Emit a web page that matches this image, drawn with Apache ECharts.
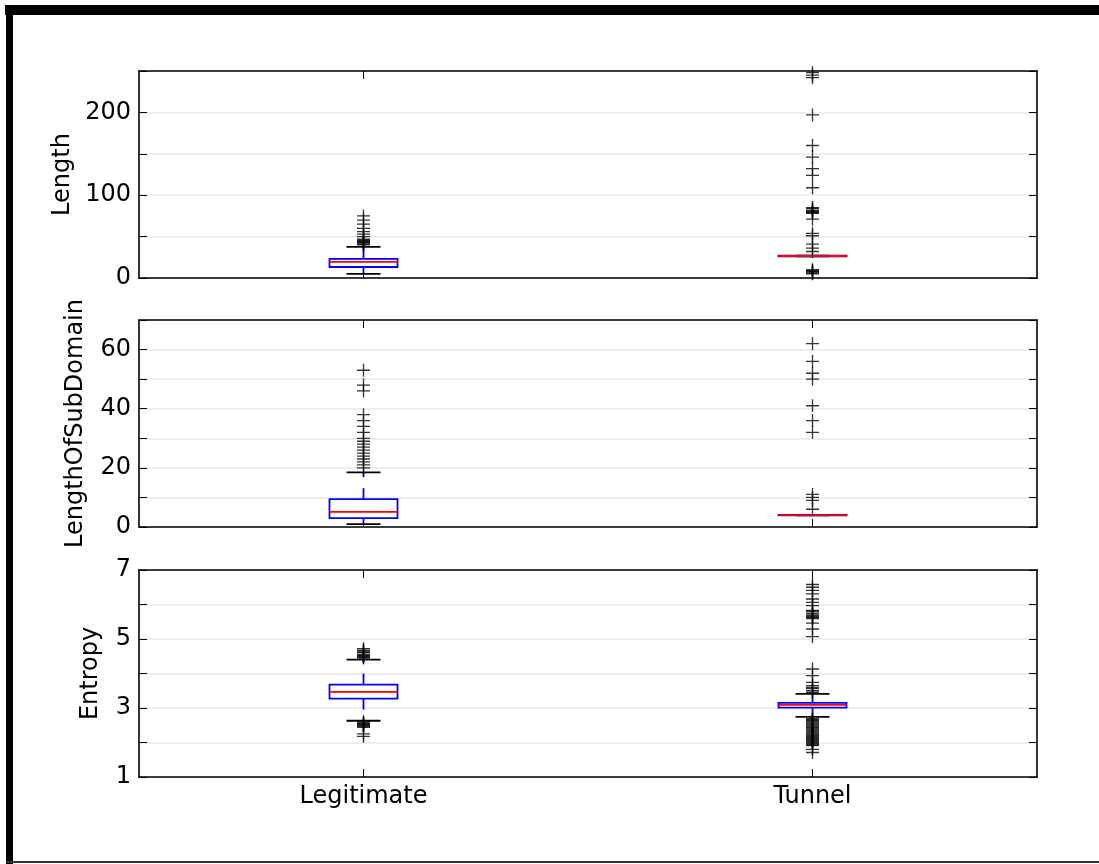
<!DOCTYPE html>
<html>
<head>
<meta charset="utf-8">
<title>Length / LengthOfSubDomain / Entropy boxplots</title>
<script src="https://cdn.jsdelivr.net/npm/echarts@6/dist/echarts.min.js"></script>
<style>
  html, body { margin: 0; padding: 0; background: #fff; }
  #chart { width: 1099px; height: 864px; }
</style>
</head>
<body>
<div id="chart"></div>
<script>
// ---- data ----
var categories = ['Legitimate', 'Tunnel'];

// each box: [lower cap, Q1, median, Q3, upper cap]
var lengthBoxes = [[5, 13.3, 19.4, 23, 37.5], [26.2, 26.2, 26.6, 27, 27]];
var lengthOutLegit = [40, 41, 42, 43, 44, 45, 46, 47, 50, 53, 56, 60, 65, 70, 75];
var lengthOutTunnel = [5, 6, 7, 8, 9, 10, 32, 36, 41, 51, 54, 71, 78, 79, 80, 81, 82, 84, 85,
  109, 124, 132, 146, 160, 197, 242, 245, 248];

var subBoxes = [[1, 3, 5.1, 9.4, 18.5], [3.9, 3.9, 4, 4.1, 4.1]];
var subOutLegit = [20, 21, 22, 23, 24, 25, 26, 27, 28, 29, 30, 32, 34, 36, 38, 46, 48, 53];
var subOutTunnel = [6, 9, 10, 11, 32, 36, 41, 50, 52, 56, 62];

var entropyBoxes = [[2.63, 3.27, 3.47, 3.68, 4.4], [2.74, 3.01, 3.09, 3.15, 3.41]];
var entropyOutLegit = [2.18, 2.25, 2.44, 2.47, 2.5, 2.52, 2.55, 2.57, 2.6,
  4.45, 4.47, 4.5, 4.52, 4.55, 4.6, 4.62, 4.65, 4.68, 4.72];
var entropyOutTunnel = [1.71, 1.8, 1.91, 1.94, 1.97, 2.0, 2.03, 2.06, 2.09, 2.12, 2.15, 2.18,
  2.21, 2.24, 2.27, 2.3, 2.33, 2.36, 2.39, 2.42, 2.45, 2.48, 2.51, 2.54, 2.57, 2.6, 2.63, 2.66, 2.69,
  3.45, 3.5, 3.56, 3.6, 3.65, 3.74, 3.94, 4.13,
  5.07, 5.29, 5.46, 5.59, 5.62, 5.65, 5.68, 5.72, 5.75, 5.8, 5.83, 5.97, 6.06, 6.16, 6.31, 6.41, 6.5, 6.58];

var panelNames = ['Length', 'LengthOfSubDomain', 'Entropy'];
var panelMin = [0, 0, 1];
var panelMax = [250, 70, 7];
var panelStep = [50, 10, 1];
var panelLabelStep = [100, 20, 2];
var panelNameGap = [63, 51, 36];

var panelBoxes = [lengthBoxes, subBoxes, entropyBoxes];
var panelOutliers = [
  [lengthOutLegit, lengthOutTunnel],
  [subOutLegit, subOutTunnel],
  [entropyOutLegit, entropyOutTunnel]
];

// ---- layout ----
var FONT = 'DejaVu Sans';
var FONT_SIZE = 24;
var gridTops = [71, 320, 570];
var gridHeight = 207;
var BOX_W = 68;

var chart = echarts.init(document.getElementById('chart'), null, { renderer: 'canvas' });

function renderBox(params, api) {
  var x = api.value(0);
  var lo = api.coord([x, api.value(1)]);
  var q1 = api.coord([x, api.value(2)]);
  var med = api.coord([x, api.value(3)]);
  var q3 = api.coord([x, api.value(4)]);
  var hi = api.coord([x, api.value(5)]);
  var cx = lo[0];
  var half = BOX_W / 2, capHalf = BOX_W / 4;
  var blue = { stroke: '#0000ff', lineWidth: 1.8, fill: null };
  var dashed = { stroke: '#0000ff', lineWidth: 1.8, lineDash: [11, 11] };
  var black = { stroke: '#000', lineWidth: 1.8 };
  return {
    type: 'group',
    children: [
      { type: 'line', shape: { x1: cx, y1: q3[1], x2: cx, y2: hi[1] }, style: dashed },
      { type: 'line', shape: { x1: cx, y1: q1[1], x2: cx, y2: lo[1] }, style: dashed },
      { type: 'line', shape: { x1: cx - capHalf, y1: hi[1], x2: cx + capHalf, y2: hi[1] }, style: black },
      { type: 'line', shape: { x1: cx - capHalf, y1: lo[1], x2: cx + capHalf, y2: lo[1] }, style: black },
      { type: 'rect', shape: { x: cx - half, y: q3[1], width: BOX_W, height: q1[1] - q3[1] }, style: blue },
      { type: 'line', shape: { x1: cx - half, y1: med[1], x2: cx + half, y2: med[1] },
        style: { stroke: '#ff0000', lineWidth: 1.8 } }
    ]
  };
}

var frameLine = { show: true, onZero: false, lineStyle: { color: '#000', width: 1.6 } };
var grids = [], xAxes = [], yAxes = [], series = [];

for (var i = 0; i < 3; i++) {
  grids.push({
    left: 139, right: 62, top: gridTops[i], height: gridHeight,
    show: true, borderWidth: 0, backgroundColor: '#fff'
  });

  var tick = { show: true, inside: true, length: 8, alignWithLabel: true,
    lineStyle: { color: '#000', width: 1 } };

  // bottom and top category axes
  xAxes.push({
    type: 'category', gridIndex: i, data: categories, position: 'bottom',
    axisLine: frameLine, axisTick: tick, splitLine: { show: false },
    axisLabel: { show: i === 2, color: '#000', fontFamily: FONT, fontSize: FONT_SIZE, margin: 8 }
  });
  xAxes.push({
    type: 'category', gridIndex: i, data: categories, position: 'top',
    axisLine: frameLine, axisTick: tick, axisLabel: { show: false }, splitLine: { show: false }
  });

  (function (idx) {
    yAxes.push({
      type: 'value', gridIndex: idx, position: 'left',
      min: panelMin[idx], max: panelMax[idx], interval: panelStep[idx],
      name: panelNames[idx], nameLocation: 'middle', nameGap: panelNameGap[idx],
      nameTextStyle: { color: '#000', fontFamily: FONT, fontSize: FONT_SIZE },
      axisLine: frameLine,
      axisTick: { show: true, inside: true, length: 8, lineStyle: { color: '#000', width: 1 } },
      splitLine: { show: true, lineStyle: { color: '#e8e8e8', width: 1.5 } },
      axisLabel: {
        color: '#000', fontFamily: FONT, fontSize: FONT_SIZE, margin: 8,
        formatter: function (v) {
          return ((v - panelMin[idx]) % panelLabelStep[idx] === 0) ? String(v) : '';
        }
      }
    });
  })(i);
  yAxes.push({
    type: 'value', gridIndex: i, position: 'right',
    min: panelMin[i], max: panelMax[i], interval: panelStep[i],
    axisLine: frameLine,
    axisTick: { show: true, inside: true, length: 8, lineStyle: { color: '#000', width: 1 } },
    splitLine: { show: false }, axisLabel: { show: false }
  });

  var boxData = panelBoxes[i].map(function (b, k) { return [k].concat(b); });
  series.push({
    type: 'custom', xAxisIndex: i * 2, yAxisIndex: i * 2,
    renderItem: renderBox, data: boxData, z: 3,
    encode: { x: 0, y: [1, 2, 3, 4, 5] }
  });

  var pts = [];
  panelOutliers[i].forEach(function (arr, k) {
    arr.forEach(function (v) { pts.push([k, v]); });
  });
  series.push({
    type: 'scatter', xAxisIndex: i * 2, yAxisIndex: i * 2,
    data: pts, z: 4, silent: true,
    symbol: 'path://M0,6H12M6,0V12', symbolSize: 13,
    itemStyle: { color: 'none', borderColor: '#000', borderWidth: 1.3 }
  });
}

var option = {
  backgroundColor: '#fff',
  animation: false,
  grid: grids,
  xAxis: xAxes,
  yAxis: yAxes,
  series: series,
  graphic: [
    { type: 'rect', shape: { x: 5, y: 5, width: 1094, height: 10 }, style: { fill: '#000' } },
    { type: 'rect', shape: { x: 6, y: 5, width: 7, height: 859 }, style: { fill: '#000' } },
    { type: 'rect', shape: { x: 6, y: 861, width: 1093, height: 2 }, style: { fill: '#333' } }
  ]
};

chart.setOption(option);
</script>
</body>
</html>
